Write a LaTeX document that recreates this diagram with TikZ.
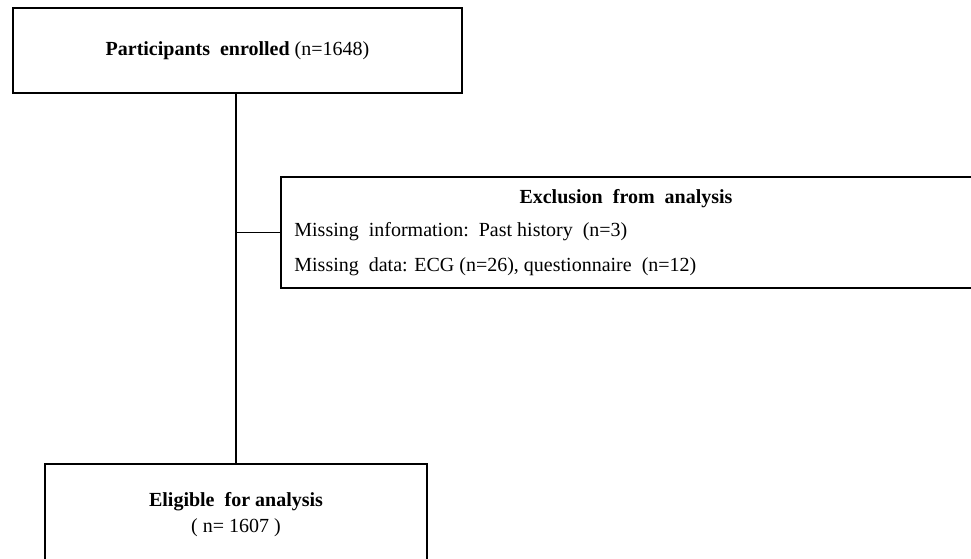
\documentclass[tikz,border=0pt]{standalone}
\usepackage{fontspec}
\setmainfont{Liberation Serif}
\usepackage{tikz}
\usetikzlibrary{positioning}

\begin{document}
\begin{tikzpicture}[
    x=0.5pt, y=0.5pt,
    every node/.style={font=\fontsize{10}{13}\selectfont},
    flowbox/.style={draw, line width=0.8pt, inner sep=0pt, align=center},
    link/.style={line width=0.8pt}
]
    \useasboundingbox (0,0) rectangle (971,-558);

    % boxes
    \node[flowbox, minimum width=224.5pt, minimum height=42.5pt] (enrolled) at (237.5,-50.5)
        {\textbf{Participants\ \ enrolled} (n=1648)};
    \node[flowbox, minimum width=347.5pt, minimum height=55.5pt] (exclusion) at (628.5,-232.5) {};
    \node[flowbox, minimum width=191pt, minimum height=51pt] (eligible) at (236,-515)
        {\textbf{Eligible\ \ for analysis}\\( n= 1607 )};

    % text of the exclusion box
    \node (exctitle) at (626,-199) {\textbf{Exclusion\ \ from\ \ analysis}};
    \node[anchor=west, inner sep=0pt] (excinfo) at (294,-232)
        {Missing\ \ information:\ \ Past history\ \ (n=3)};
    \node[anchor=west, inner sep=0pt] (excdata) at (294,-267)
        {Missing\ \ data: ECG (n=26), questionnaire\ \ (n=12)};

    % connections
    \draw[link] (enrolled.south -| eligible.north) -- (eligible.north);
    \draw[link] (exclusion.west) -- (exclusion.west -| eligible.north);
\end{tikzpicture}
\end{document}
